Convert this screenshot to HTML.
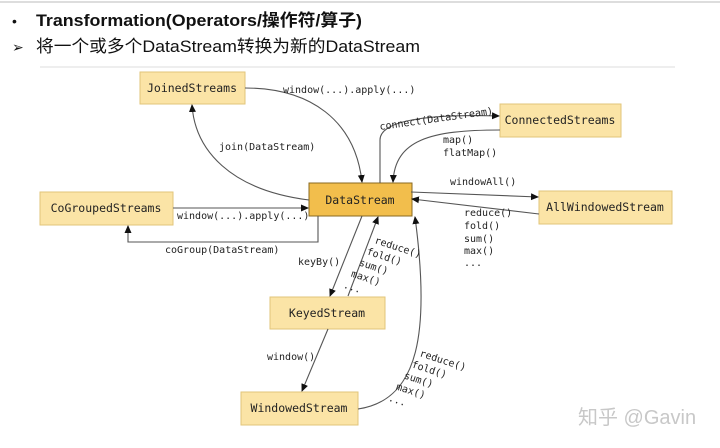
<!DOCTYPE html>
<html><head><meta charset="utf-8"><style>
body{margin:0;background:#fff;}
svg{display:block}
.m{font-family:"DejaVu Sans Mono","Liberation Mono",monospace;font-size:10px;fill:#222}
.b{font-family:"DejaVu Sans Mono","Liberation Mono",monospace;font-size:11.5px;fill:#222}
</style></head><body>
<svg width="720" height="448" viewBox="0 0 720 448" xmlns="http://www.w3.org/2000/svg">
<defs><marker id="a" markerWidth="8" markerHeight="8" refX="7" refY="4" orient="auto" markerUnits="userSpaceOnUse"><path d="M0,0.5 L8,4 L0,7.5z" fill="#111"/></marker></defs>
<line x1="0" y1="2" x2="720" y2="2" stroke="#ddd" stroke-width="2"/>
<text x="12" y="26" font-family="Liberation Sans,sans-serif" font-size="14" fill="#111">•</text>
<text x="36" y="26" font-family="Liberation Sans,'Noto Sans CJK SC',sans-serif" font-size="17" font-weight="bold" fill="#111" textLength="326" lengthAdjust="spacingAndGlyphs">Transformation(Operators/操作符/算子)</text>
<text x="12" y="52" font-family="Liberation Sans,'Noto Sans CJK SC',sans-serif" font-size="14" fill="#111">➢</text>
<text x="36" y="52" font-family="Liberation Sans,'Noto Sans CJK SC',sans-serif" font-size="17" fill="#111" textLength="384" lengthAdjust="spacingAndGlyphs">将一个或多个DataStream转换为新的DataStream</text>
<line x1="40" y1="67" x2="675" y2="67" stroke="#ddd"/>
<g fill="#fbe4a6" stroke="#e2c57a">
<rect x="140" y="72" width="105" height="32"/>
<rect x="500" y="104" width="121" height="33"/>
<rect x="539" y="191" width="133" height="33"/>
<rect x="40" y="192" width="133" height="33"/>
<rect x="270" y="297" width="115" height="32"/>
<rect x="241" y="392" width="117" height="33"/>
</g>
<rect x="309" y="183" width="103" height="33" fill="#f2be4c" stroke="#8a6a20"/>
<text class="b" x="192" y="92" text-anchor="middle">JoinedStreams</text>
<text class="b" x="560" y="124" text-anchor="middle">ConnectedStreams</text>
<text class="b" x="605" y="211" text-anchor="middle">AllWindowedStream</text>
<text class="b" x="106" y="212" text-anchor="middle">CoGroupedStreams</text>
<text class="b" x="327" y="317" text-anchor="middle">KeyedStream</text>
<text class="b" x="299" y="412" text-anchor="middle">WindowedStream</text>
<text class="b" x="360" y="204" text-anchor="middle" font-size="13">DataStream</text>
<g fill="none" stroke="#555" stroke-width="1.1" marker-end="url(#a)">
<path d="M245,88 C310,88 355,120 362,182"/>
<path d="M309,200 C230,190 195,150 192,105"/>
<path d="M380,183 L380,140 C380,118 440,114 499,116"/>
<path d="M500,130 C430,130 395,140 393,182"/>
<path d="M411,192 L538,197"/>
<path d="M539,214 L412,199"/>
<path d="M173,208 L308,208"/>
<path d="M318,216 L318,242 L128,242 L128,226"/>
<path d="M362,216 L330,296"/>
<path d="M348,296 L378,217"/>
<path d="M328,329 L302,391"/>
<path d="M358,409 C420,400 430,330 415,217"/>
</g>
<text class="m" x="283" y="93">window(...).apply(...)</text>
<text class="m" x="219" y="150">join(DataStream)</text>
<text class="m" x="380" y="130" transform="rotate(-8 380 130)">connect(DataStream)</text>
<text class="m" x="443" y="143">map()</text>
<text class="m" x="443" y="156">flatMap()</text>
<text class="m" x="450" y="185">windowAll()</text>
<text class="m" x="464" y="216">reduce()</text>
<text class="m" x="464" y="229">fold()</text>
<text class="m" x="464" y="242">sum()</text>
<text class="m" x="464" y="254">max()</text>
<text class="m" x="464" y="266">...</text>
<text class="m" x="177" y="219">window(...).apply(...)</text>
<text class="m" x="165" y="253">coGroup(DataStream)</text>
<text class="m" x="298" y="265">keyBy()</text>
<g transform="rotate(18 374 243)">
<text class="m" x="374" y="243">reduce()</text>
<text class="m" x="370" y="256">fold()</text>
<text class="m" x="366" y="269">sum()</text>
<text class="m" x="362" y="282">max()</text>
<text class="m" x="358" y="295">...</text>
</g>
<text class="m" x="267" y="360">window()</text>
<g transform="rotate(18 419 356)">
<text class="m" x="419" y="356">reduce()</text>
<text class="m" x="415" y="369">fold()</text>
<text class="m" x="411" y="382">sum()</text>
<text class="m" x="407" y="395">max()</text>
<text class="m" x="403" y="408">...</text>
</g>
<text x="578" y="424" font-family="Liberation Sans,'Noto Sans CJK SC',sans-serif" font-size="20" fill="#c8c8c8">知乎 @Gavin</text>
</svg>
</body></html>
